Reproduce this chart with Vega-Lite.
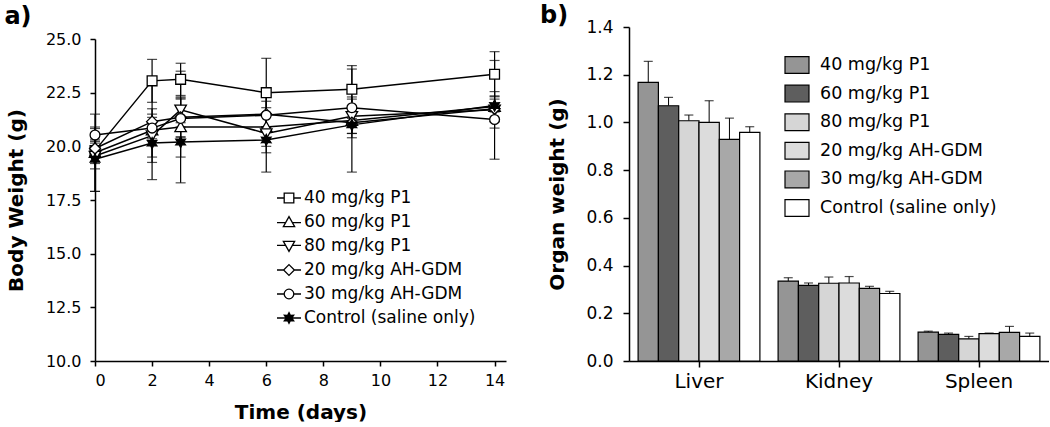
{
  "$schema": "https://vega.github.io/schema/vega-lite/v6.json",
  "padding": {"left": 4, "top": 4, "right": 0, "bottom": 0},
  "spacing": 33,
  "resolve": {"scale": {"fill": "independent", "shape": "independent"}, "legend": {"fill": "independent", "shape": "independent"}},
  "config": {
    "font": "DejaVu Sans",
    "view": {"stroke": null},
    "axis": {"domainColor": "black", "tickColor": "black", "labelColor": "black", "titleColor": "black", "grid": false, "domainWidth": 1.5, "tickWidth": 1.5},
    "legend": {"labelColor": "black", "padding": 0, "labelLimit": 400}
  },
  "hconcat": [
    {
      "width": 411,
      "height": 334,
      "title": {"text": "a)", "anchor": "start", "fontSize": 24, "fontWeight": "bold", "dx": -2, "offset": -2, "color": "black"},
      "data": {"values": [
        {"Series": "40 mg/kg P1", "Day": 0, "Mean": 19.8, "SD": 0.6},
        {"Series": "40 mg/kg P1", "Day": 2, "Mean": 23.05, "SD": 1.0},
        {"Series": "40 mg/kg P1", "Day": 3, "Mean": 23.12, "SD": 0.75},
        {"Series": "40 mg/kg P1", "Day": 6, "Mean": 22.5, "SD": 1.6},
        {"Series": "40 mg/kg P1", "Day": 9, "Mean": 22.66, "SD": 1.1},
        {"Series": "40 mg/kg P1", "Day": 14, "Mean": 23.36, "SD": 1.05},
        {"Series": "60 mg/kg P1", "Day": 0, "Mean": 19.7, "SD": 1.8},
        {"Series": "60 mg/kg P1", "Day": 2, "Mean": 20.75, "SD": 2.3},
        {"Series": "60 mg/kg P1", "Day": 3, "Mean": 20.9, "SD": 2.6},
        {"Series": "60 mg/kg P1", "Day": 6, "Mean": 20.9, "SD": 0.9},
        {"Series": "60 mg/kg P1", "Day": 9, "Mean": 21.2, "SD": 2.4},
        {"Series": "60 mg/kg P1", "Day": 14, "Mean": 21.85, "SD": 0.7},
        {"Series": "80 mg/kg P1", "Day": 0, "Mean": 19.55, "SD": 0.6},
        {"Series": "80 mg/kg P1", "Day": 2, "Mean": 20.5, "SD": 1.0},
        {"Series": "80 mg/kg P1", "Day": 3, "Mean": 21.7, "SD": 0.6},
        {"Series": "80 mg/kg P1", "Day": 6, "Mean": 20.6, "SD": 1.8},
        {"Series": "80 mg/kg P1", "Day": 9, "Mean": 21.4, "SD": 0.8},
        {"Series": "80 mg/kg P1", "Day": 14, "Mean": 21.7, "SD": 2.3},
        {"Series": "20 mg/kg AH-GDM", "Day": 0, "Mean": 19.9, "SD": 0.4},
        {"Series": "20 mg/kg AH-GDM", "Day": 2, "Mean": 21.15, "SD": 0.6},
        {"Series": "20 mg/kg AH-GDM", "Day": 3, "Mean": 21.35, "SD": 0.9},
        {"Series": "20 mg/kg AH-GDM", "Day": 6, "Mean": 21.5, "SD": 0.6},
        {"Series": "20 mg/kg AH-GDM", "Day": 9, "Mean": 21.1, "SD": 0.5},
        {"Series": "20 mg/kg AH-GDM", "Day": 14, "Mean": 21.75, "SD": 0.6},
        {"Series": "30 mg/kg AH-GDM", "Day": 0, "Mean": 20.53, "SD": 0.3},
        {"Series": "30 mg/kg AH-GDM", "Day": 2, "Mean": 20.85, "SD": 0.5},
        {"Series": "30 mg/kg AH-GDM", "Day": 3, "Mean": 21.3, "SD": 0.9},
        {"Series": "30 mg/kg AH-GDM", "Day": 6, "Mean": 21.45, "SD": 1.1},
        {"Series": "30 mg/kg AH-GDM", "Day": 9, "Mean": 21.8, "SD": 0.5},
        {"Series": "30 mg/kg AH-GDM", "Day": 14, "Mean": 21.25, "SD": 0.4},
        {"Series": "Control (saline only)", "Day": 0, "Mean": 19.4, "SD": 1.5},
        {"Series": "Control (saline only)", "Day": 2, "Mean": 20.15, "SD": 0.9},
        {"Series": "Control (saline only)", "Day": 3, "Mean": 20.2, "SD": 0.7},
        {"Series": "Control (saline only)", "Day": 6, "Mean": 20.3, "SD": 0.6},
        {"Series": "Control (saline only)", "Day": 9, "Mean": 21.0, "SD": 0.6},
        {"Series": "Control (saline only)", "Day": 14, "Mean": 21.9, "SD": 0.3}
      ]},
      "resolve": {"scale": {"shape": "independent"}},
      "encoding": {
        "x": {"field": "Day", "type": "quantitative", "scale": {"domain": [0, 14.4], "nice": false},
          "axis": {"values": [0, 2, 4, 6, 8, 10, 12, 14], "title": "Time (days)", "labelFontSize": 16, "titleFontSize": 20, "titleFontWeight": "bold", "tickSize": 5, "labelPadding": 6, "titlePadding": 14}},
        "y": {"field": "Mean", "type": "quantitative", "scale": {"domain": [10, 25], "range": [334, 12], "nice": false, "zero": false},
          "axis": {"values": [10, 12.5, 15, 17.5, 20, 22.5, 25], "format": ".1f", "title": "Body Weight (g)", "labelFontSize": 16, "titleFontSize": 20, "titleFontWeight": "bold", "tickSize": 5, "labelPadding": 9, "titlePadding": 19}}
      },
      "layer": [
        {
          "mark": {"type": "errorbar", "color": "black", "thickness": 1.2, "ticks": {"size": 10, "thickness": 1.2, "color": "black"}},
          "encoding": {"yError": {"field": "SD"}}
        },
        {
          "mark": {"type": "line", "color": "black", "strokeWidth": 1.5},
          "encoding": {"detail": {"field": "Series", "type": "nominal"}}
        },
        {
          "mark": {"type": "point", "filled": true, "size": 600, "stroke": "black", "strokeWidth": 1.3, "opacity": 1},
          "encoding": {
            "shape": {"field": "Series", "type": "nominal", "legend": null,
              "scale": {
                "domain": ["40 mg/kg P1", "60 mg/kg P1", "80 mg/kg P1", "20 mg/kg AH-GDM", "30 mg/kg AH-GDM", "Control (saline only)"],
                "range": [
                  "M-0.4,-0.4H0.4V0.4H-0.4Z",
                  "M0,-0.45L0.47,0.38H-0.47Z",
                  "M0,0.45L0.47,-0.38H-0.47Z",
                  "M0,-0.45L0.45,0L0,0.45L-0.45,0Z",
                  "M-0.4,0A0.4,0.4,0,1,1,0.4,0A0.4,0.4,0,1,1,-0.4,0Z",
                  "M0,-0.45L0.12,-0.208L0.39,-0.225L0.24,0L0.39,0.225L0.12,0.208L0,0.45L-0.12,0.208L-0.39,0.225L-0.24,0L-0.39,-0.225L-0.12,-0.208Z"
                ]
              }
            },
            "fill": {"condition": {"test": "datum.Series === 'Control (saline only)'", "value": "black"}, "value": "white"}
          }
        },
        {
          "transform": [{"filter": "false"}],
          "mark": {"type": "point", "filled": false, "color": "black", "strokeWidth": 1.3, "opacity": 1},
          "encoding": {
            "shape": {"field": "Series", "type": "nominal",
              "scale": {
                "domain": ["40 mg/kg P1", "60 mg/kg P1", "80 mg/kg P1", "20 mg/kg AH-GDM", "30 mg/kg AH-GDM", "Control (saline only)"],
                "range": [
                  "M-1,0H-0.4M0.4,0H1M-0.4,-0.4H0.4V0.4H-0.4Z",
                  "M-1,0.05H-0.27M0.27,0.05H1M0,-0.45L0.47,0.38H-0.47Z",
                  "M-1,-0.05H-0.27M0.27,-0.05H1M0,0.45L0.47,-0.38H-0.47Z",
                  "M-1,0H-0.45M0.45,0H1M0,-0.45L0.45,0L0,0.45L-0.45,0Z",
                  "M-1,0H-0.4M0.4,0H1M-0.4,0A0.4,0.4,0,1,1,0.4,0A0.4,0.4,0,1,1,-0.4,0Z",
                  "M0,-0.45L0.12,-0.208L0.39,-0.225L0.24,0L0.39,0.225L0.12,0.208L0,0.45L-0.12,0.208L-0.39,0.225L-0.24,0L-0.39,-0.225L-0.12,-0.208ZM0,-0.3L0.08,-0.14L0.26,-0.15L0.16,0L0.26,0.15L0.08,0.14L0,0.3L-0.08,0.14L-0.26,0.15L-0.16,0L-0.26,-0.15L-0.08,-0.14ZM0,-0.45V0.45M-0.39,-0.225L0.39,0.225M-0.39,0.225L0.39,-0.225M-0.24,0H0.24M-0.12,-0.208L0.12,0.208M0.12,-0.208L-0.12,0.208M-1,0H-0.3M0.3,0H1"
                ]
              },
              "legend": {
                "title": null, "orient": "none", "legendX": 181, "legendY": 158,
                "symbolSize": 576, "labelFontSize": 17, "labelOffset": 2, "rowPadding": 3,
                "symbolStrokeColor": "black", "symbolStrokeWidth": 1.3, "symbolOpacity": 1
              }
            }
          }
        }
      ]
    },
    {
      "width": 420,
      "height": 334,
      "title": {"text": "b)", "anchor": "start", "fontSize": 24, "fontWeight": "bold", "dx": -8, "offset": -10, "color": "black"},
      "data": {"values": [
        {"Organ": "Liver", "Group": "40 mg/kg P1", "Weight": 1.168, "Upper": 1.256},
        {"Organ": "Liver", "Group": "60 mg/kg P1", "Weight": 1.07, "Upper": 1.105},
        {"Organ": "Liver", "Group": "80 mg/kg P1", "Weight": 1.007, "Upper": 1.031},
        {"Organ": "Liver", "Group": "20 mg/kg AH-GDM", "Weight": 1.0, "Upper": 1.091},
        {"Organ": "Liver", "Group": "30 mg/kg AH-GDM", "Weight": 0.929, "Upper": 1.018},
        {"Organ": "Liver", "Group": "Control (saline only)", "Weight": 0.958, "Upper": 0.982},
        {"Organ": "Kidney", "Group": "40 mg/kg P1", "Weight": 0.335, "Upper": 0.349},
        {"Organ": "Kidney", "Group": "60 mg/kg P1", "Weight": 0.317, "Upper": 0.327},
        {"Organ": "Kidney", "Group": "80 mg/kg P1", "Weight": 0.326, "Upper": 0.352},
        {"Organ": "Kidney", "Group": "20 mg/kg AH-GDM", "Weight": 0.327, "Upper": 0.354},
        {"Organ": "Kidney", "Group": "30 mg/kg AH-GDM", "Weight": 0.304, "Upper": 0.313},
        {"Organ": "Kidney", "Group": "Control (saline only)", "Weight": 0.283, "Upper": 0.292},
        {"Organ": "Spleen", "Group": "40 mg/kg P1", "Weight": 0.121, "Upper": 0.125},
        {"Organ": "Spleen", "Group": "60 mg/kg P1", "Weight": 0.112, "Upper": 0.117},
        {"Organ": "Spleen", "Group": "80 mg/kg P1", "Weight": 0.093, "Upper": 0.103},
        {"Organ": "Spleen", "Group": "20 mg/kg AH-GDM", "Weight": 0.115, "Upper": 0.117},
        {"Organ": "Spleen", "Group": "30 mg/kg AH-GDM", "Weight": 0.12, "Upper": 0.145},
        {"Organ": "Spleen", "Group": "Control (saline only)", "Weight": 0.103, "Upper": 0.117}
      ]},
      "encoding": {
        "x": {"field": "Organ", "type": "nominal", "sort": ["Liver", "Kidney", "Spleen"],
          "scale": {"paddingInner": 0.13, "paddingOuter": 0.065},
          "axis": {"title": null, "labelAngle": 0, "labelFontSize": 20, "tickSize": 6, "labelPadding": 4}},
        "xOffset": {"field": "Group", "type": "nominal",
          "sort": ["40 mg/kg P1", "60 mg/kg P1", "80 mg/kg P1", "20 mg/kg AH-GDM", "30 mg/kg AH-GDM", "Control (saline only)"],
          "scale": {"paddingInner": 0, "paddingOuter": 0}},
        "y": {"field": "Weight", "type": "quantitative", "scale": {"domain": [0, 1.4], "nice": false},
          "axis": {"values": [0, 0.2, 0.4, 0.6, 0.8, 1.0, 1.2, 1.4], "format": ".1f", "title": "Organ weight (g)", "labelFontSize": 17, "titleFontSize": 20, "titleFontWeight": "bold", "tickSize": 6, "labelPadding": 10, "titlePadding": 18}}
      },
      "layer": [
        {
          "mark": {"type": "rule", "color": "black", "strokeWidth": 1},
          "encoding": {"y2": {"field": "Upper"}}
        },
        {
          "mark": {"type": "tick", "color": "black", "size": 9, "thickness": 1.2},
          "encoding": {"y": {"field": "Upper", "type": "quantitative", "title": "Organ weight (g)"}}
        },
        {
          "mark": {"type": "bar", "stroke": "black", "strokeWidth": 1.2},
          "encoding": {
            "fill": {"field": "Group", "type": "nominal",
              "scale": {
                "domain": ["40 mg/kg P1", "60 mg/kg P1", "80 mg/kg P1", "20 mg/kg AH-GDM", "30 mg/kg AH-GDM", "Control (saline only)"],
                "range": ["#959595", "#5e5e5e", "#d6d6d6", "#dcdcdc", "#a8a8a8", "#ffffff"]
              },
              "legend": {
                "title": null, "orient": "none", "legendX": 155, "legendY": 25,
                "symbolType": "M-1,-0.7H1V0.7H-1Z", "symbolSize": 576,
                "symbolStrokeColor": "black", "symbolStrokeWidth": 1.2,
                "labelFontSize": 17.5, "labelOffset": 10, "rowPadding": 4.6
              }
            }
          }
        }
      ]
    }
  ]
}
